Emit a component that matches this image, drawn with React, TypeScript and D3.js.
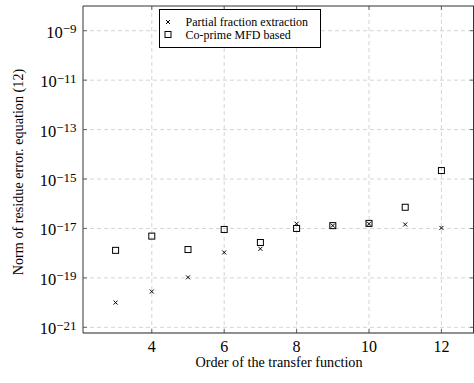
import React from "react";
import * as d3 from "d3";

const orders = [3, 4, 5, 6, 7, 8, 9, 10, 11, 12];
const partialFraction = [1.0e-20, 2.8e-20, 1.05e-19, 1.07e-18, 1.5e-18, 1.55e-17, 1.3e-17, 1.55e-17, 1.45e-17, 1.05e-17];
const coprimeMFD = [1.3e-18, 4.9e-18, 1.4e-18, 9.1e-18, 2.7e-18, 1.0e-17, 1.3e-17, 1.6e-17, 7.2e-17, 2.2e-15];
const xTicks = [4, 6, 8, 10, 12];
const yTickExps = [-9, -11, -13, -15, -17, -19, -21];
const seriesNames = ["Partial fraction extraction", "Co-prime MFD based"];

const W = 474, H = 383;
const M = { left: 83, top: 6, right: 474, bottom: 333 };
const serif = { fontFamily: "Liberation Serif" };

export default function App() {
  const x = d3.scaleLinear().domain([2.1, 12.9]).range([M.left, M.right]);
  const y = d3.scaleLog().domain([Math.pow(10, -21.23), 1e-8]).range([M.bottom, M.top]);
  const gridColor = "#d4d4d4";
  const cross = (cx: number, cy: number, k: string) => (
    <path key={k} d={`M${cx - 2},${cy - 2}L${cx + 2},${cy + 2}M${cx - 2},${cy + 2}L${cx + 2},${cy - 2}`} stroke="#000" strokeWidth={1} fill="none" />
  );
  const square = (cx: number, cy: number, k: string) => (
    <rect key={k} x={cx - 3} y={cy - 3} width={6} height={6} stroke="#000" strokeWidth={1} fill="none" />
  );
  return (
    <svg width={W} height={H} style={{ position: "absolute", left: 0, top: 0 }}>
      <rect width={W} height={H} fill="#fff" />
      {/* grid */}
      {xTicks.map((t) => (
        <line key={"gx" + t} x1={x(t)} x2={x(t)} y1={M.top} y2={M.bottom} stroke={gridColor} strokeDasharray="4 3" strokeWidth={1} />
      ))}
      {yTickExps.map((e) => (
        <line key={"gy" + e} x1={M.left} x2={M.right} y1={y(Math.pow(10, e))} y2={y(Math.pow(10, e))} stroke={gridColor} strokeDasharray="4 3" strokeWidth={1} />
      ))}
      {/* ticks inside */}
      {xTicks.map((t) => (
        <g key={"tx" + t}>
          <line x1={x(t)} x2={x(t)} y1={M.bottom} y2={M.bottom - 4} stroke="#666" />
          <line x1={x(t)} x2={x(t)} y1={M.top} y2={M.top + 4} stroke="#666" />
        </g>
      ))}
      {yTickExps.map((e) => (
        <g key={"ty" + e}>
          <line x1={M.left} x2={M.left + 4} y1={y(Math.pow(10, e))} y2={y(Math.pow(10, e))} stroke="#666" />
          <line x1={M.right} x2={M.right - 4} y1={y(Math.pow(10, e))} y2={y(Math.pow(10, e))} stroke="#666" />
        </g>
      ))}
      {/* axis box */}
      <line x1={M.left} x2={M.left} y1={M.top} y2={M.bottom} stroke="#555" strokeWidth={1.2} />
      <line x1={M.left} x2={M.right} y1={M.top} y2={M.top} stroke="#333" strokeWidth={1} />
      <line x1={M.left} x2={M.right} y1={M.bottom} y2={M.bottom} stroke="#222" strokeWidth={1.2} />
      <line x1={M.right - 0.5} x2={M.right - 0.5} y1={M.top} y2={M.bottom} stroke="#333" strokeWidth={1} />
      {/* tick labels */}
      {xTicks.map((t) => (
        <text key={"lx" + t} x={x(t)} y={351.5} textAnchor="middle" fontSize={16} style={serif}>{t}</text>
      ))}
      {yTickExps.map((e) => (
        <text key={"ly" + e} x={76.5} y={y(Math.pow(10, e)) + 7} textAnchor="end" fontSize={16.5} style={serif}>
          10<tspan fontSize={13} dy={-4.5}>{"\u2212" + Math.abs(e)}</tspan>
        </text>
      ))}
      {/* axis labels */}
      <text x={(M.left + M.right) / 2 + 0.5} y={367} textAnchor="middle" fontSize={14.2} style={serif}>Order of the transfer function</text>
      <text transform={`translate(22.5,172) rotate(-90)`} textAnchor="middle" fontSize={14.2} style={serif}>
        Norm of residue error. equation (12)
      </text>
      {/* data */}
      {orders.map((o, i) => square(x(o), y(coprimeMFD[i]), "s" + i))}
      {orders.map((o, i) => cross(x(o), y(partialFraction[i]), "c" + i))}
      {/* legend */}
      <rect x={159.5} y={9.5} width={161} height={38} fill="#fff" stroke="#000" strokeWidth={1} />
      {cross(168, 22, "lc")}
      {square(168, 34.5, "ls")}
      <text x={185.5} y={25.5} fontSize={12} style={serif}>{seriesNames[0]}</text>
      <text x={185.5} y={38.5} fontSize={12} style={serif}>{seriesNames[1]}</text>
    </svg>
  );
}
